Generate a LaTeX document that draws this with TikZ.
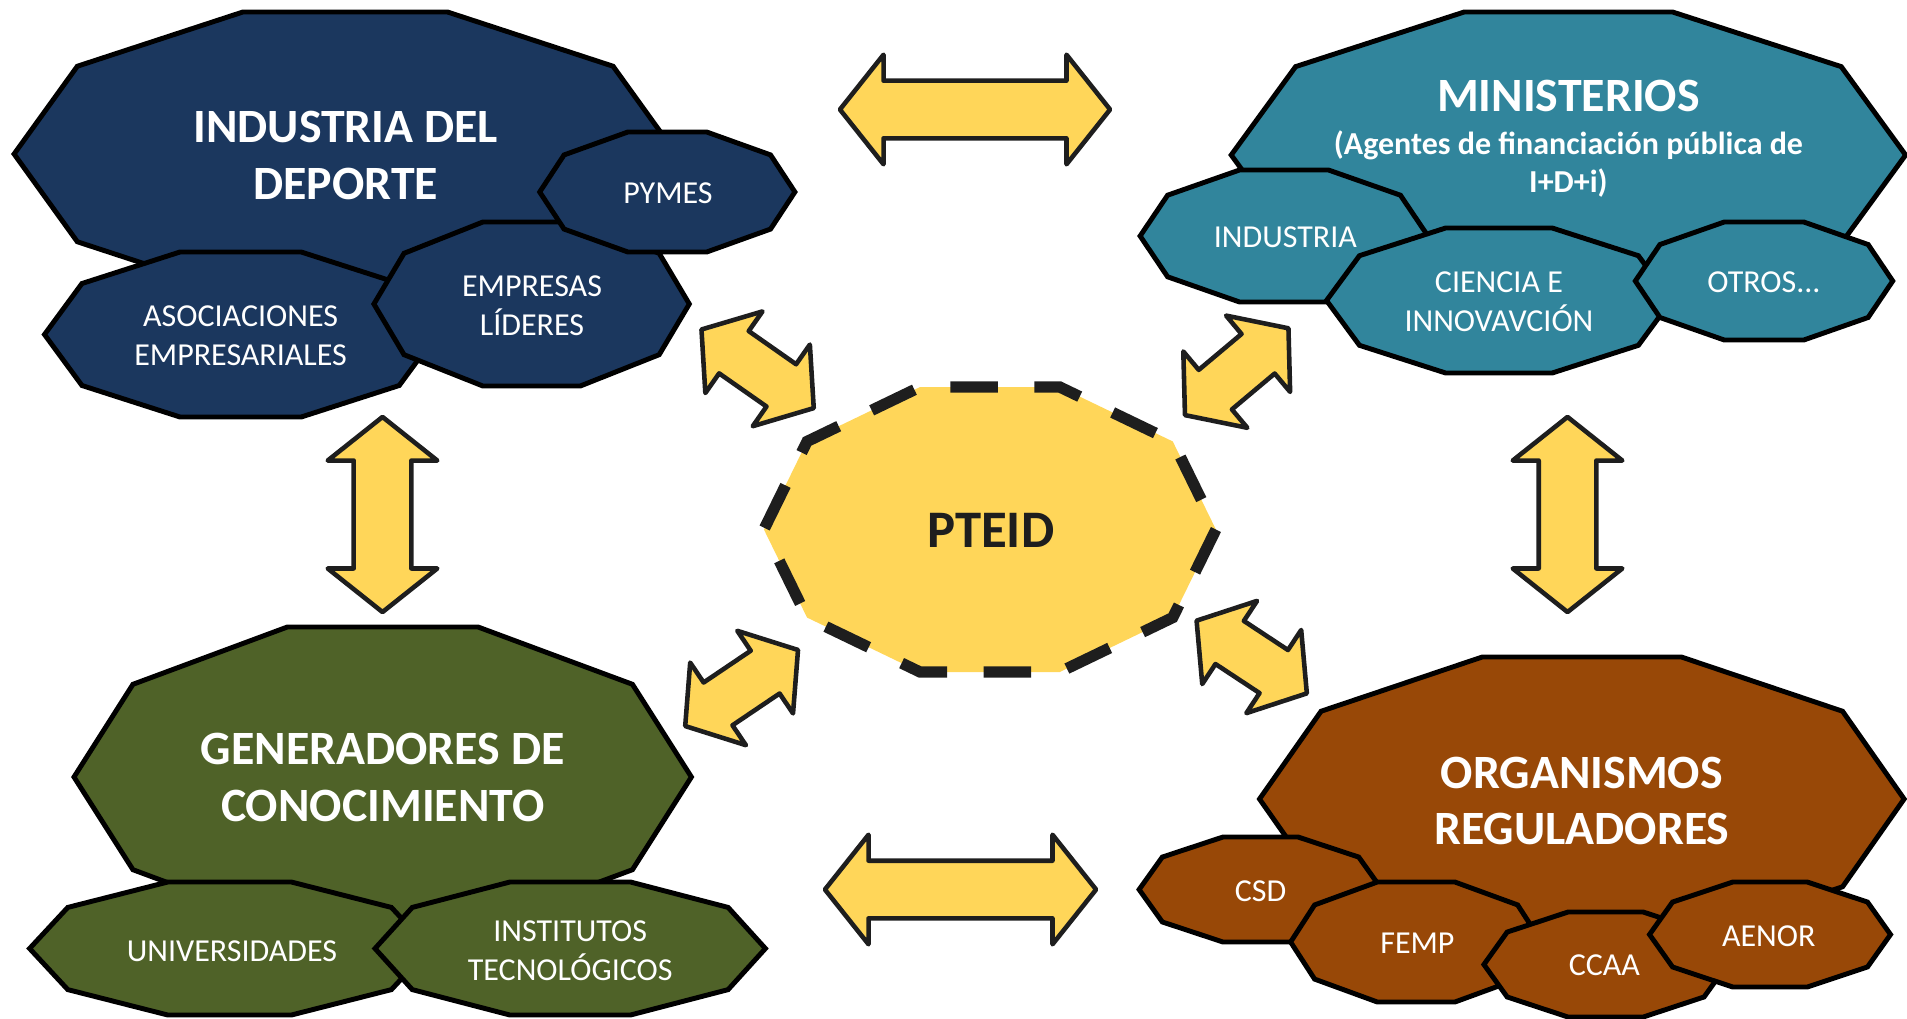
\documentclass[tikz,border=0pt]{standalone}
\usepackage{fontspec}
\setmainfont{Carlito}
\usetikzlibrary{shapes.arrows}

\definecolor{azul}{HTML}{1B375E}
\definecolor{turquesa}{HTML}{31859C}
\definecolor{oliva}{HTML}{4F6228}
\definecolor{marron}{HTML}{984807}
\definecolor{amarillo}{HTML}{FFD659}
\definecolor{linea}{HTML}{1E1E1E}

% decagono: estilo, cx, cy, rx, ry
\newcommand{\decagono}[5]{%
  \draw[#1] ({#2+#4},#3) \foreach \k in {1,...,9}{ -- ({#2+#4*cos(36*\k)},{#3+#5*sin(36*\k)/sin(72)}) } -- cycle;
}

\begin{document}
\begin{tikzpicture}[x=0.01cm, y=-0.01cm,
    deca/.style={draw=black, line width=1.4pt},
    titulo/.style={text=white, align=center, font=\bfseries\fontsize{13.6}{16.1}\selectfont},
    subtitulo/.style={text=white, align=center, font=\bfseries\fontsize{9.1}{10.8}\selectfont},
    etiqueta/.style={text=white, align=center, font=\fontsize{9.1}{11.1}\selectfont},
    flecha/.style={double arrow, draw=linea, fill=amarillo, line width=1.3pt, line join=round,
      inner sep=0pt, double arrow tip angle=103},
    larga/.style={flecha, inner ysep=0.265cm, double arrow head extend=0.26cm},
    corta/.style={flecha, inner ysep=0.235cm, double arrow head extend=0.24cm}]
  \useasboundingbox (0,0) rectangle (1907,1018);

  % industria del deporte
  \decagono{deca, fill=azul}{345.2}{154}{331.1}{142}
  \decagono{deca, fill=azul}{240.6}{334.5}{196.1}{82.5}
  \decagono{deca, fill=azul}{531.6}{304}{157.7}{82}
  \decagono{deca, fill=azul}{667.3}{192}{127.6}{60}
  \node[titulo] (ind) at (345.7,155.75) {INDUSTRIA DEL\\DEPORTE};
  \node[etiqueta] (asoc) at (240.6,335.8) {ASOCIACIONES\\EMPRESARIALES};
  \node[etiqueta] (emp) at (532,305.5) {EMPRESAS\\LÍDERES};
  \node[etiqueta] (pym) at (668,193) {PYMES};

  % ministerios
  \decagono{deca, fill=turquesa}{1568.4}{155}{337.2}{143}
  \decagono{deca, fill=turquesa}{1284}{236}{143.9}{66}
  \decagono{deca, fill=turquesa}{1498.9}{300.5}{172.4}{72.5}
  \decagono{deca, fill=turquesa}{1764}{281}{128.7}{59}
  \node[titulo] (min) at (1568.4,96) {MINISTERIOS};
  \node[subtitulo] (minsub) at (1568.4,164) {(Agentes de financiación pública de\\I+D+i)};
  \node[etiqueta] (mind) at (1285.3,237) {INDUSTRIA};
  \node[etiqueta] (cie) at (1498.9,302) {CIENCIA E\\INNOVAVCIÓN};
  \node[etiqueta] (otr) at (1764,282) {OTROS...};

  % generadores de conocimiento
  \decagono{deca, fill=oliva}{382.7}{777}{308.7}{150}
  \decagono{deca, fill=oliva}{229.6}{948.5}{200}{66.5}
  \decagono{deca, fill=oliva}{570.2}{948.5}{195.2}{66.5}
  \node[titulo] (gen) at (382.7,777.5) {GENERADORES DE\\CONOCIMIENTO};
  \node[etiqueta] (uni) at (232,951) {UNIVERSIDADES};
  \node[etiqueta] (ins) at (570.2,950.5) {INSTITUTOS\\TECNOLÓGICOS};

  % organismos reguladores
  \decagono{deca, fill=marron}{1581.8}{799}{322.3}{142}
  \decagono{deca, fill=marron}{1260.5}{889.5}{121.4}{52.5}
  \decagono{deca, fill=marron}{1416.1}{942}{125.5}{60}
  \decagono{deca, fill=marron}{1605.6}{964.5}{121.7}{52.5}
  \decagono{deca, fill=marron}{1770}{934.5}{120.5}{52.5}
  \node[titulo] (org) at (1581.8,801) {ORGANISMOS\\REGULADORES};
  \node[etiqueta] (csd) at (1260.5,891) {CSD};
  \node[etiqueta] (femp) at (1417.4,943) {FEMP};
  \node[etiqueta] (ccaa) at (1604.3,965) {CCAA};
  \node[etiqueta] (aenor) at (1768.7,936) {AENOR};

  % pteid
  \decagono{fill=amarillo, draw=linea, line width=3.2pt, dash pattern=on 13.5pt off 10.4pt}{989.9}{529.5}{226}{142.5}
  \node[text=linea, font=\bfseries\fontsize{15}{18}\selectfont] (pteid) at (990.7,530) {PTEID};

  % flechas
  \node[larga, minimum height=2.7cm] (fsup) at (975,109.5) {};
  \node[larga, minimum height=2.71cm] (finf) at (960.5,889.5) {};
  \node[larga, minimum height=1.95cm, rotate=90] (fizq) at (382.5,514.5) {};
  \node[larga, minimum height=1.95cm, rotate=90] (fder) at (1567.5,514.5) {};
  \node[corta, minimum height=1.37cm, rotate=-35] (fdiag1) at (757.6,368.8) {};
  \node[corta, minimum height=1.36cm, rotate=34] (fdiag2) at (741.6,688) {};
  \node[corta, minimum height=1.35cm, rotate=40] (fdiag3) at (1236.7,371.7) {};
  \node[corta, minimum height=1.32cm, rotate=-33.4] (fdiag4) at (1251.7,657) {};
\end{tikzpicture}
\end{document}
